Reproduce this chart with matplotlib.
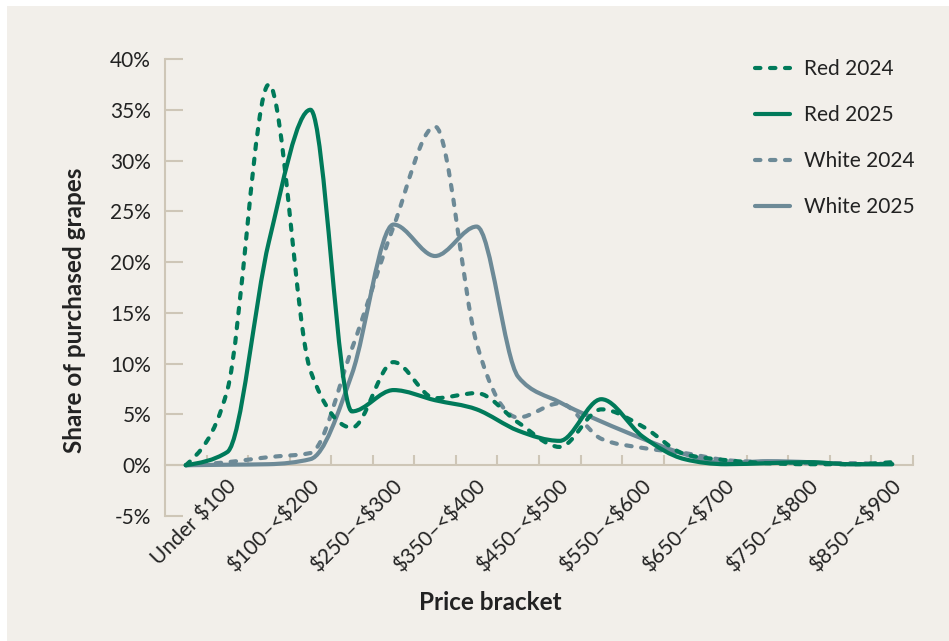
import numpy as np
import matplotlib
matplotlib.use('Agg')
import matplotlib.pyplot as plt
import matplotlib.transforms as mtransforms
from matplotlib.path import Path
from matplotlib.patches import PathPatch, Rectangle
from matplotlib.lines import Line2D

plt.rcParams['font.family'] = ['Lato', 'DejaVu Sans']
plt.rcParams['text.parse_math'] = False  # dollar signs are plain text

# Price brackets: 18 categories, every other one labelled
n_brackets = 18
tick_pos = np.arange(1, n_brackets, 2)
tick_labels = ['Under $100', '$100–<$200', '$250–<$300', '$350–<$400',
               '$450–<$500', '$550–<$600', '$650–<$700', '$750–<$800',
               '$850–<$900']

# Share of purchased grapes (%) in each price bracket
red_2024 = [0, 7.4, 37.5, 9.3, 3.7, 10.15, 6.6, 7.1, 4.2, 1.8, 5.5, 3.8,
            1.1, 0.5, 0.2, 0.1, 0.1, 0.3]
red_2025 = [0, 1.3, 22.0, 35.0, 5.3, 7.4, 6.4, 5.5, 3.4, 2.4, 6.5, 2.8,
            0.6, 0.1, 0.2, 0.3, 0.1, 0.1]
white_2024 = [0, 0.3, 0.8, 1.2, 11.5, 23.5, 33.35, 12.0, 4.7, 6.1, 2.6, 1.7,
              1.2, 0.5, 0.3, 0.2, 0.2, 0.1]
white_2025 = [0, 0.05, 0.1, 0.6, 9.0, 23.7, 20.6, 23.5, 8.7, 6.2, 4.3, 2.6,
              1.1, 0.2, 0.4, 0.3, 0.1, 0.1]

GREEN = '#007a5a'
GREY = '#6d8a97'
BEIGE = '#f2efea'
AXIS = '#cec6b7'
TEXT = '#222222'


def monotone_path(x, y):
    # monotone cubic (same as d3 curveMonotoneX) as bezier segments
    x = np.asarray(x, float)
    y = np.asarray(y, float)
    h = np.diff(x)
    s = np.diff(y) / h
    t = np.zeros_like(y)
    for i in range(1, len(y) - 1):
        p = (s[i - 1] * h[i] + s[i] * h[i - 1]) / (h[i - 1] + h[i])
        t[i] = (np.sign(s[i - 1]) + np.sign(s[i])) * min(abs(s[i - 1]), abs(s[i]), 0.5 * abs(p))
    t[0] = (3 * s[0] - t[1]) / 2
    t[-1] = (3 * s[-1] - t[-2]) / 2
    verts = [(x[0], y[0])]
    codes = [Path.MOVETO]
    for i in range(len(y) - 1):
        d = h[i] / 3
        verts += [(x[i] + d, y[i] + t[i] * d),
                  (x[i + 1] - d, y[i + 1] - t[i + 1] * d),
                  (x[i + 1], y[i + 1])]
        codes += [Path.CURVE4] * 3
    return Path(verts, codes)


fig = plt.figure(figsize=(9.49, 6.41), dpi=100)
fig.patch.set_facecolor('white')
fig.patches.append(Rectangle((7 / 949, 0), 1, 1 - 6 / 641, transform=fig.transFigure,
                             facecolor=BEIGE, edgecolor='none', zorder=-10))

ax = fig.add_axes([165 / 949, 1 - 516 / 641, 748 / 949, 457 / 641])
ax.set_facecolor('none')

x = np.arange(n_brackets)
dash = (0, (1.3, 2.3))
series = [
    ('White 2025', white_2025, GREY, '-'),
    ('White 2024', white_2024, GREY, dash),
    ('Red 2024', red_2024, GREEN, dash),
    ('Red 2025', red_2025, GREEN, '-'),
]
for name, vals, col, ls in series:
    patch = PathPatch(monotone_path(x, vals), fill=False, edgecolor=col, lw=3.0,
                      linestyle=ls, capstyle='round', joinstyle='round', zorder=3)
    ax.add_patch(patch)

ax.set_xlim(-0.5, n_brackets - 0.5)
ax.set_ylim(-5, 40)

for side in ['top', 'right']:
    ax.spines[side].set_visible(False)
ax.spines['bottom'].set_position(('data', 0))
for side in ['left', 'bottom']:
    ax.spines[side].set_color(AXIS)
    ax.spines[side].set_linewidth(1.5)

yt = np.arange(-5, 41, 5)
ax.set_yticks(yt)
ax.set_yticklabels([f'{v}%' for v in yt])
ax.tick_params(axis='y', direction='in', length=13, width=1.5, color=AXIS,
               pad=10, labelsize=15, labelcolor=TEXT)

ax.set_xticks(tick_pos)
ax.set_xticklabels(tick_labels)
ax.set_xticks(np.arange(0.5, n_brackets, 1), minor=True)
ax.tick_params(axis='x', which='major', length=0, pad=13, labelsize=15, labelcolor=TEXT)
ax.tick_params(axis='x', which='minor', direction='in', length=7, width=1.5, color=AXIS)
shift = mtransforms.ScaledTranslation(6 / 100, 0, fig.dpi_scale_trans)
for lab in ax.get_xticklabels():
    lab.set_rotation(45)
    lab.set_ha('right')
    lab.set_va('center')
    lab.set_rotation_mode('anchor')
    lab.set_transform(lab.get_transform() + shift)

fig.text(75 / 949, 1 - 310 / 641, 'Share of purchased grapes', rotation=90,
         ha='center', va='center', fontsize=17.5, fontweight='bold', color=TEXT)
fig.text(490 / 949, 1 - 603 / 641, 'Price bracket', ha='center', va='center',
         fontsize=17.5, fontweight='bold', color=TEXT)

handles = [
    Line2D([], [], color=GREEN, lw=3.0, linestyle=dash, dash_capstyle='round'),
    Line2D([], [], color=GREEN, lw=3.0, solid_capstyle='round'),
    Line2D([], [], color=GREY, lw=3.0, linestyle=dash, dash_capstyle='round'),
    Line2D([], [], color=GREY, lw=3.0, solid_capstyle='round'),
]
fig.legend(handles, ['Red 2024', 'Red 2025', 'White 2024', 'White 2025'],
           loc='upper left', bbox_to_anchor=(755 / 949, 1 - 59 / 641),
           frameon=False, fontsize=15, handlelength=1.7, handletextpad=0.65,
           labelspacing=1.25, borderpad=0, borderaxespad=0, labelcolor=TEXT)

fig.savefig('out.png', dpi=100)
